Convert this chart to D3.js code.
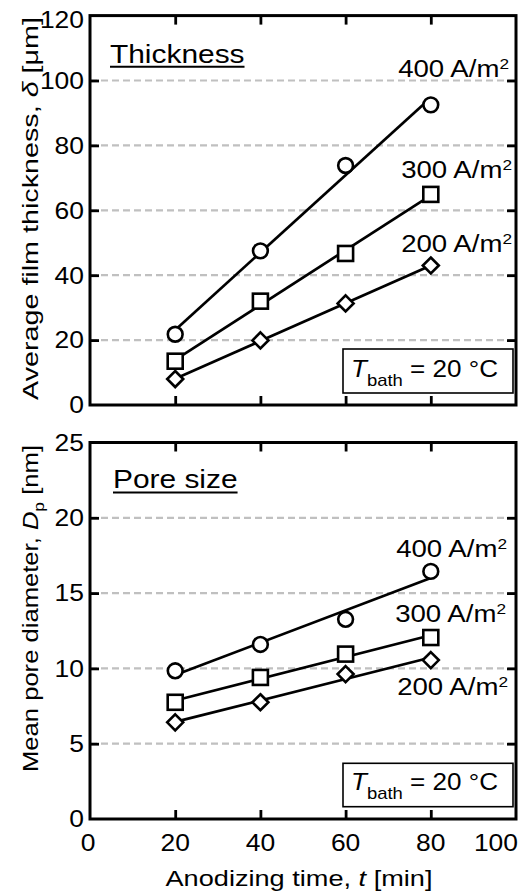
<!DOCTYPE html>
<html><head><meta charset="utf-8">
<script src="https://cdn.jsdelivr.net/npm/d3@7"></script>
<style>body{margin:0;background:#fff}svg{display:block}text{font-family:"Liberation Sans",Arial,sans-serif;fill:#000}</style>
</head><body>
<svg id="c" width="531" height="893"></svg>
<script>
// ---- data ----
const times = [20, 40, 60, 80];
const currentLabels = ["400", "300", "200"];
const thickness400 = [21.8, 47.5, 73.8, 92.5];
const thickness300 = [13.5, 32.0, 46.7, 64.9];
const thickness200 = [8.0, 19.9, 31.3, 43.0];
const pore400 = [9.84, 11.59, 13.26, 16.44];
const pore300 = [7.75, 9.40, 10.95, 12.05];
const pore200 = [6.42, 7.75, 9.62, 10.55];
const xTicks = [0, 20, 40, 60, 80, 100];
const yTicksTop = [0, 20, 40, 60, 80, 100, 120];
const yTicksBot = [0, 5, 10, 15, 20, 25];
const markerShapes = ["circle", "square", "diamond"];

const SX = 1.15; // horizontal text stretch
const svg = d3.select("#c");
svg.append("rect").attr("width", 531).attr("height", 893).attr("fill", "#fff");

const x = d3.scaleLinear().domain([0, 100]).range([90, 516]);
const panels = [
  {y: d3.scaleLinear().domain([0, 120]).range([405, 15.6]), ticks: yTicksTop,
   series: [thickness400, thickness300, thickness200], title: "Thickness", titlePos: [110, 62.5],
   labelPos: [[509, 77.3], [512, 178.3], [512, 251.7]], box: [343, 349, 513, 393], boxBase: 376.7, xlabels: false},
  {y: d3.scaleLinear().domain([0, 25]).range([819, 442.5]), ticks: yTicksBot,
   series: [pore400, pore300, pore200], title: "Pore size", titlePos: [113, 488.2],
   labelPos: [[507, 556.5], [506, 621.7], [508, 695]], box: [343, 763.3, 513, 806.7], boxBase: 790, xlabels: true}
];

function stext(parent, px, py, size, anchor) {
  const g = parent.append("g").attr("transform", `translate(${px},${py}) scale(${SX},1)`);
  return g.append("text").attr("font-size", size).attr("text-anchor", anchor || "start");
}
function fit(xs, ys) {
  const mx = d3.mean(xs), my = d3.mean(ys);
  const b = d3.sum(xs, (v, i) => (v - mx) * (ys[i] - my)) / d3.sum(xs, v => (v - mx) ** 2);
  return [b, my - b * mx];
}

panels.forEach(p => {
  const y = p.y;
  const g = svg.append("g");
  const [y0, y1] = y.range();
  // grid
  g.selectAll(".grid").data(p.ticks.slice(1, -1)).join("line")
    .attr("x1", x(0)).attr("x2", x(100)).attr("y1", d => y(d)).attr("y2", d => y(d))
    .attr("stroke", "#c0c0c0").attr("stroke-width", 2.2).attr("stroke-dasharray", "7,4");
  // axes ticks inward
  const ax = g.append("g");
  ax.append("g").attr("transform", `translate(0,${y0})`)
    .call(d3.axisBottom(x).tickValues([20, 40, 60, 80]).tickSize(-9).tickFormat(""));
  ax.append("g").attr("transform", `translate(0,${y1})`)
    .call(d3.axisTop(x).tickValues([20, 40, 60, 80]).tickSize(-9).tickFormat(""));
  ax.append("g").attr("transform", `translate(${x(0)},0)`)
    .call(d3.axisLeft(y).tickValues(p.ticks.slice(1, -1)).tickSize(-9).tickFormat(""));
  ax.append("g").attr("transform", `translate(${x(100)},0)`)
    .call(d3.axisRight(y).tickValues(p.ticks.slice(1, -1)).tickSize(-9).tickFormat(""));
  ax.selectAll(".domain").remove();
  ax.selectAll(".tick line").attr("stroke", "#000").attr("stroke-width", 2.8);
  g.append("rect").attr("x", x(0)).attr("y", y1).attr("width", x(100) - x(0)).attr("height", y0 - y1)
    .attr("fill", "none").attr("stroke", "#000").attr("stroke-width", 3);
  // y tick labels
  p.ticks.forEach((t, i) => {
    const off = (i === p.ticks.length - 1 && p.xlabels === false) ? 4 : 0;
    stext(g, 84, y(t) + 8.3 + off, 23, "end").text(t);
  });
  if (p.xlabels) {
    xTicks.forEach(t => {
      if (t === 100) stext(g, 518, 850.7, 23, "end").text(t);
      else stext(g, x(t) - (t === 0 ? 2 : 0), 850.7, 23, "middle").text(t);
    });
  }
  // fit lines + markers
  p.series.forEach((s, i) => {
    const [b, a] = fit(times, s);
    g.append("line").attr("x1", x(times[0])).attr("x2", x(times[3]))
      .attr("y1", y(a + b * times[0])).attr("y2", y(a + b * times[3]))
      .attr("stroke", "#000").attr("stroke-width", 2.7);
  });
  p.series.forEach((s, i) => {
    const shape = markerShapes[i];
    s.forEach((v, j) => {
      const cx = x(times[j]), cy = y(v);
      let m;
      if (shape === "circle") m = g.append("circle").attr("cx", cx).attr("cy", cy).attr("r", 7.4);
      else if (shape === "square") m = g.append("rect").attr("x", cx - 7.5).attr("y", cy - 7.5).attr("width", 15).attr("height", 15);
      else m = g.append("path").attr("d", `M${cx},${cy - 8}L${cx + 8},${cy}L${cx},${cy + 8}L${cx - 8},${cy}Z`);
      m.attr("fill", "#fff").attr("stroke", "#000").attr("stroke-width", 2.6);
    });
  });
  // series labels
  currentLabels.forEach((c, i) => {
    const t = stext(g, p.labelPos[i][0], p.labelPos[i][1], 24, "end");
    t.append("tspan").text(c + " A/m");
    t.append("tspan").attr("font-size", 15).attr("dy", -8).text("2");
  });
  // title with underline
  const tt = stext(g, p.titlePos[0], p.titlePos[1], 26, "start").text(p.title);
  const w = tt.node().getComputedTextLength() * SX;
  g.append("line").attr("x1", p.titlePos[0]).attr("x2", p.titlePos[0] + w)
    .attr("y1", p.titlePos[1] + 4.2).attr("y2", p.titlePos[1] + 4.2)
    .attr("stroke", "#000").attr("stroke-width", 2);
  // T_bath box
  const bx = p.box;
  g.append("rect").attr("x", bx[0]).attr("y", bx[1]).attr("width", bx[2] - bx[0]).attr("height", bx[3] - bx[1])
    .attr("fill", "#fff").attr("stroke", "#000").attr("stroke-width", 1.6);
  const bt = g.append("text").attr("x", 351).attr("y", p.boxBase).attr("font-size", 24)
    .attr("textLength", 147).attr("lengthAdjust", "spacingAndGlyphs");
  bt.append("tspan").attr("font-style", "italic").text("T");
  bt.append("tspan").attr("font-size", 17).attr("dy", 9.3).text("bath");
  bt.append("tspan").attr("dy", -9.3).text(" = 20 \u00B0C");
});

// axis titles
const yt1 = svg.append("text").attr("transform", "translate(37.5,208.5) rotate(-90)")
  .attr("text-anchor", "middle").attr("font-size", 22)
  .attr("textLength", 383).attr("lengthAdjust", "spacingAndGlyphs");
yt1.append("tspan").text("Average  film thickness, ");
yt1.append("tspan").attr("font-style", "italic").text("\u03B4");
yt1.append("tspan").text(" [\u03BCm]");

const yt2 = svg.append("text").attr("transform", "translate(37.5,608.5) rotate(-90)")
  .attr("text-anchor", "middle").attr("font-size", 22)
  .attr("textLength", 327).attr("lengthAdjust", "spacingAndGlyphs");
yt2.append("tspan").text("Mean pore diameter, ");
yt2.append("tspan").attr("font-style", "italic").text("D");
yt2.append("tspan").attr("font-size", 15).attr("dy", 6).text("p");
yt2.append("tspan").attr("dy", -6).text(" [nm]");

const xt = svg.append("text").attr("x", 299).attr("y", 886).attr("text-anchor", "middle").attr("font-size", 22)
  .attr("textLength", 267).attr("lengthAdjust", "spacingAndGlyphs");
xt.append("tspan").text("Anodizing time, ");
xt.append("tspan").attr("font-style", "italic").text("t");
xt.append("tspan").text(" [min]");
</script>
</body></html>
